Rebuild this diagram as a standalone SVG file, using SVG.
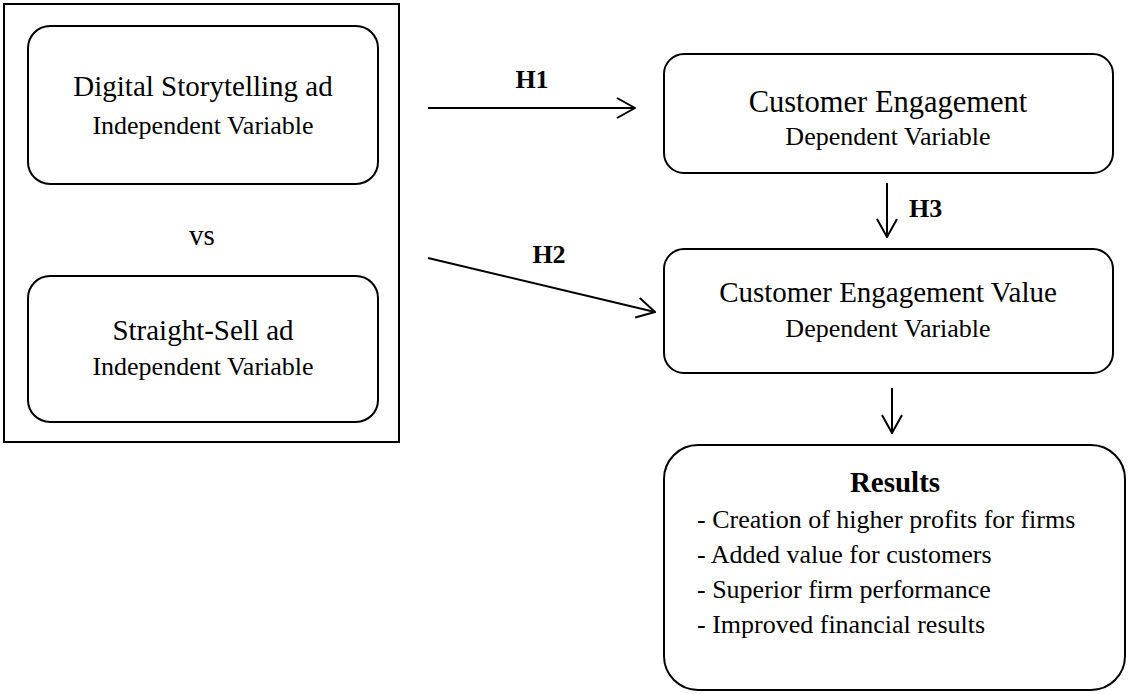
<svg xmlns="http://www.w3.org/2000/svg" width="1128" height="694" viewBox="0 0 1128 694">
<style>
.box{fill:#fff;stroke:#000;stroke-width:2}
.t{font-family:"Liberation Serif","Times New Roman",serif;fill:#000}
.big{font-size:29px}
.sm{font-size:26px}
.b{font-weight:bold}
.c{text-anchor:middle}
.ln{stroke:#000;stroke-width:2;fill:none}
</style>
<defs>
<marker id="ah" viewBox="0 0 20 24" refX="19" refY="12" markerWidth="20" markerHeight="24" markerUnits="userSpaceOnUse" orient="auto">
<path d="M1,2 L19,12 L1,22" fill="none" stroke="#000" stroke-width="2"/>
</marker>
</defs>
<rect width="1128" height="694" fill="#fff"/>
<g id="group-left">
<rect x="4" y="4" width="395" height="438" fill="none" stroke="#000" stroke-width="2"/>
<text class="t big c" x="202" y="245">vs</text>
</g>
<g id="node-digital">
<rect class="box" x="28" y="26" width="350" height="158" rx="22"/>
<text class="t big c" x="203" y="96">Digital Storytelling ad</text>
<text class="t sm c" x="203" y="134">Independent Variable</text>
</g>
<g id="node-straight">
<rect class="box" x="28" y="276" width="350" height="146" rx="22"/>
<text class="t big c" x="203" y="340">Straight-Sell ad</text>
<text class="t sm c" x="203" y="375">Independent Variable</text>
</g>
<g id="node-ce">
<rect class="box" x="664" y="54" width="449" height="119" rx="20"/>
<text class="t c" x="888" y="112" font-size="30.5">Customer Engagement</text>
<text class="t sm c" x="888" y="145">Dependent Variable</text>
</g>
<g id="node-cev">
<rect class="box" x="664" y="249" width="449" height="124" rx="20"/>
<text class="t big c" x="888" y="302">Customer Engagement Value</text>
<text class="t sm c" x="888" y="337">Dependent Variable</text>
</g>
<g id="node-results">
<rect class="box" x="664" y="445" width="461" height="245" rx="34"/>
<text class="t big b c" x="895" y="492">Results</text>
<text class="t sm" x="697" y="528">- Creation of higher profits for firms</text>
<text class="t sm" x="697" y="563">- Added value for customers</text>
<text class="t sm" x="697" y="598">- Superior firm performance</text>
<text class="t sm" x="697" y="633">- Improved financial results</text>
</g>
<g id="connectors">
<line class="ln" x1="428" y1="108" x2="635" y2="108" marker-end="url(#ah)"/>
<line class="ln" x1="428" y1="258" x2="655" y2="312" marker-end="url(#ah)"/>
<line class="ln" x1="887" y1="183" x2="887" y2="237" marker-end="url(#ah)"/>
<line class="ln" x1="892" y1="388" x2="892" y2="433" marker-end="url(#ah)"/>
<text class="t sm b c" x="532" y="88">H1</text>
<text class="t sm b c" x="549" y="263">H2</text>
<text class="t sm b" x="909" y="217">H3</text>
</g>
</svg>
